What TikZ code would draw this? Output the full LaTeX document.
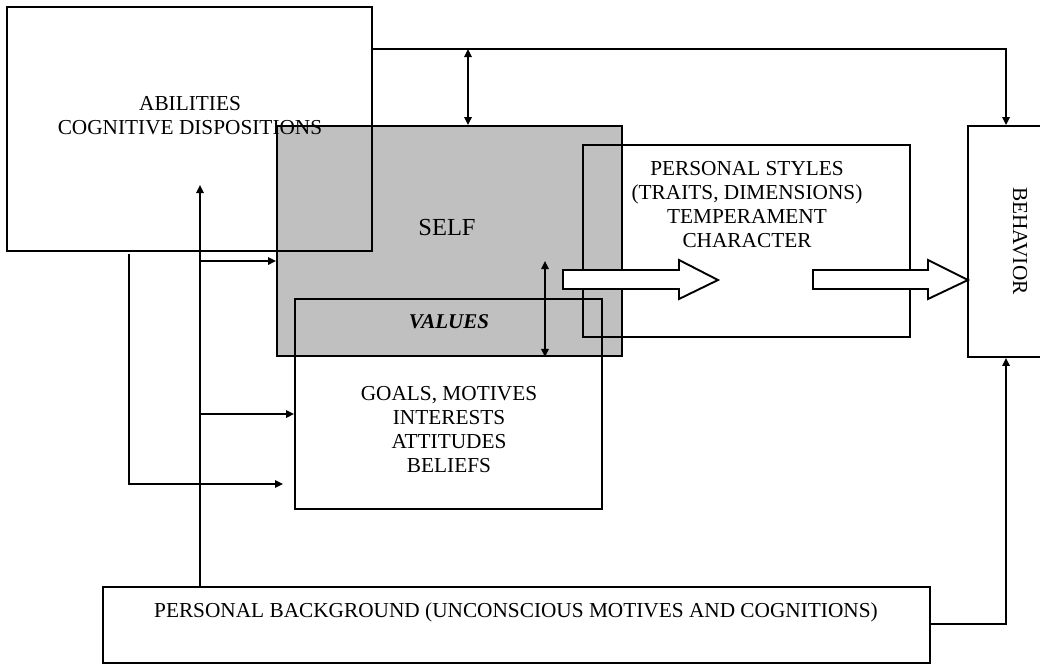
\documentclass[tikz,border=0pt]{standalone}
\usepackage{fontspec}
\setmainfont{Liberation Serif}
\usetikzlibrary{arrows.meta}
\definecolor{selfgray}{RGB}{192,192,192}
\begin{document}
\begin{tikzpicture}[x=1pt,y=-1pt,
  box/.style={draw=black, line width=1.9pt, rectangle, inner sep=0pt},
  lbl/.style={font=\fontsize{21.3}{24}\selectfont, align=center, inner sep=0pt},
  conn/.style={line width=1.5pt, -{Triangle[length=8pt,width=7.5pt]}},
  dconn/.style={line width=1.5pt, {Triangle[length=8pt,width=7.5pt]}-{Triangle[length=8pt,width=7.5pt]}},
  hollow/.style={draw=black, fill=white, line width=1.9pt, line join=miter}]
\useasboundingbox (0,0) rectangle (1040,665);
\clip (0,0) rectangle (1040,665);
% boxes
\node[box, fill=selfgray, minimum width=345, minimum height=230] (self) at (449.5,241) {};
\node[box, minimum width=365, minimum height=244] (abil) at (189.5,129) {};
\node[box, minimum width=327, minimum height=192] (styles) at (746.5,241) {};
\node[box, minimum width=307, minimum height=210] (goals) at (448.5,404) {};
\node[box, minimum width=100, minimum height=231] (behav) at (1018,241.5) {};
\node[box, minimum width=827, minimum height=76] (bg) at (516.5,625) {};
% texts
\node[lbl] (abiltxt) at (190,116) {ABILITIES\\COGNITIVE DISPOSITIONS};
\node[lbl, font=\fontsize{24.5}{28}\selectfont, anchor=base] (selftxt) at (447,235) {SELF};
\node[lbl, font=\fontsize{21}{24}\selectfont\bfseries\itshape, anchor=base] (valtxt) at (449,328) {VALUES};
\node[lbl] (stytxt) at (747,205) {PERSONAL STYLES\\(TRAITS, DIMENSIONS)\\TEMPERAMENT\\CHARACTER};
\node[lbl] (goaltxt) at (449,430) {GOALS, MOTIVES\\INTERESTS\\ATTITUDES\\BELIEFS};
\node[lbl, rotate=-90] (behtxt) at (1020,241) {BEHAVIOR};
\node[lbl, anchor=base] (bgtxt) at (516,617) {PERSONAL BACKGROUND (UNCONSCIOUS MOTIVES AND COGNITIONS)};
% connectors
\coordinate (topjoin) at (468,49);
\coordinate (selfin) at (545,261);
\coordinate (bgup) at (200,185);
\coordinate (br1) at (200,261);
\coordinate (br2) at (200,414);
\coordinate (leftdown) at (129,254);
\coordinate (leftend) at (283,484);
\draw[conn] (abil.east |- topjoin) -| (behav.north -| 1006,0);
\draw[dconn] (topjoin) -- (self.north -| topjoin);
\draw[dconn] (selfin) -- (self.south -| selfin);
\draw[conn] (bg.north -| bgup) -- (bgup);
\draw[conn] (br1) -- (self.west |- br1);
\draw[conn] (br2) -- (goals.west |- br2);
\draw[conn] (leftdown) |- (leftend);
\draw[conn] (bg.east |- 0,624) -| (behav.south -| 1006,0);
% hollow arrows
\draw[hollow] (563,270) -- (679,270) -- (679,260) -- (718,280) -- (679,299) -- (679,289) -- (563,289) -- cycle;
\draw[hollow] (813,270) -- (928,270) -- (928,260) -- (968,280) -- (928,299) -- (928,289) -- (813,289) -- cycle;
\end{tikzpicture}
\end{document}
